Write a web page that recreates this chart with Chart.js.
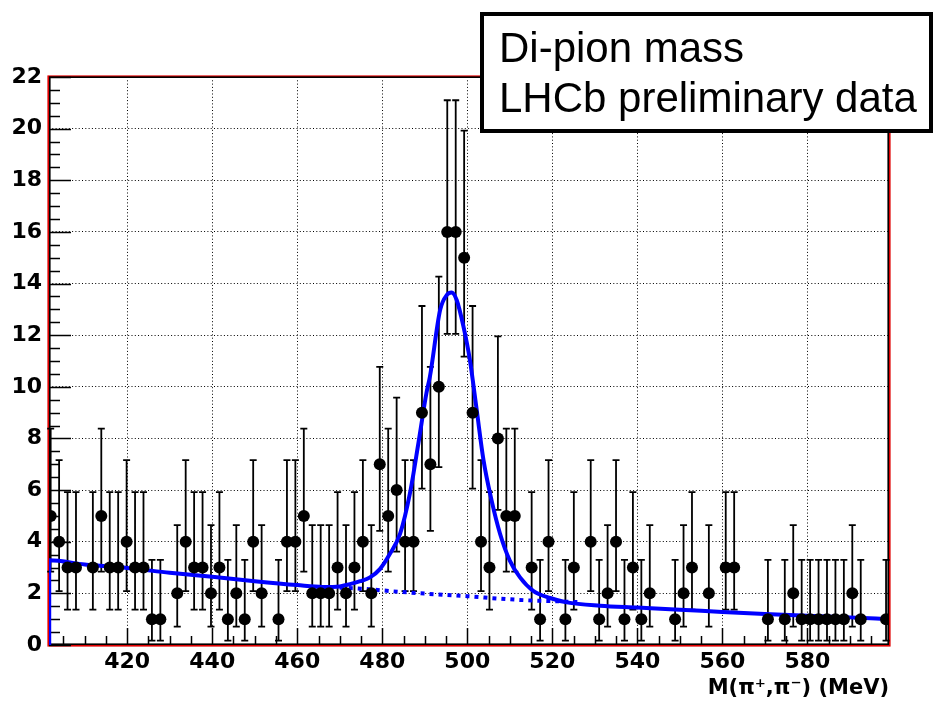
<!DOCTYPE html>
<html>
<head>
<meta charset="utf-8">
<script src="https://cdn.jsdelivr.net/npm/chart.js@4.4.0/dist/chart.umd.min.js"></script>
<style>
  html, body { margin: 0; padding: 0; background: #fff; }
  #wrap { width: 935px; height: 703px; position: relative; }
</style>
</head>
<body>
<div id="wrap"><canvas id="chart" width="935" height="703"></canvas></div>
<script>
// di-pion mass histogram, 100 bins starting at 401 MeV
const binLow = 401.0;
const binWidth = 1.985;
const counts = [
  5, 4, 3, 3, null, 3, 5, 3, 3, 4,
  3, 3, 1, 1, null, 2, 4, 3, 3, 2,
  3, 1, 2, 1, 4, 2, null, 1, 4, 4,
  5, 2, 2, 2, 3, 2, 3, 4, 2, 7,
  5, 6, 4, 4, 9, 7, 10, 16, 16, 15,
  9, 4, 3, 8, 5, 5, null, 3, 1, 4,
  null, 1, 3, null, 4, 1, 2, 4, 1, 3,
  1, 2, null, null, 1, 2, 3, null, 2, null,
  3, 3, null, null, null, 1, null, 1, 2, 1,
  1, 1, 1, 1, 1, 2, 1, null, null, 1
];

// error bar ends, indexed by bin count
const errLow  = [0, 0.17, 0.71, 1.37, 2.09, 2.84, 3.62, 4.42, 5.23, 6.06, 6.89, null, null, null, null, 11.17, 12.05];
const errHigh = [1.84, 3.30, 4.64, 5.92, 7.16, 8.38, 9.58, 10.77, 11.95, 13.13, 14.27, null, null, null, null, 19.92, 21.10];

// fitted signal + background curve
const fitMass = [401.65, 401.65, 410, 420, 430, 440, 450, 460, 466, 470, 472.4, 474.8, 477.1, 479.5, 481.8,
  484.2, 486.5, 488.5, 490.4, 491.2, 493.6, 495.2, 496.3, 497.5, 499.1, 500.6, 502.2, 503.8, 505.7,
  507.7, 510, 512.4, 515.5, 519.5, 523.4, 531.2, 540, 550, 560, 570, 580, 590, 599.2];
const fitValue = [0, 3.28, 3.12, 2.98, 2.80, 2.64, 2.47, 2.32, 2.25, 2.27, 2.36, 2.47, 2.62, 2.95, 3.53,
  4.31, 5.87, 7.82, 9.77, 10.39, 12.97, 13.56, 13.65, 13.36, 12.33, 11.05, 9.12, 7.17, 5.61,
  4.31, 3.27, 2.62, 2.10, 1.82, 1.65, 1.52, 1.45, 1.37, 1.28, 1.20, 1.13, 1.07, 1.00];

// background component (dotted)
const bgMass  = [470, 475, 484, 491, 500, 508, 515.5, 520, 526];
const bgValue = [2.22, 2.18, 2.06, 1.98, 1.89, 1.79, 1.72, 1.70, 1.66];

const xTicks = [420, 440, 460, 480, 500, 520, 540, 560, 580];
const yMax = 22;

const points = [];
counts.forEach((n, i) => {
  if (n == null) return;
  points.push({ x: binLow + binWidth * (i + 0.5), y: n });
});

const axisFont = '"DejaVu Sans", Verdana, sans-serif';

const rootStyle = {
  id: 'rootStyle',
  beforeDatasetsDraw(chart) {
    const ctx = chart.ctx, xs = chart.scales.x, ys = chart.scales.y;
    const a = chart.chartArea;
    ctx.save();

    // frame: black inside, red outside
    ctx.strokeStyle = '#e00000';
    ctx.lineWidth = 1.6;
    ctx.strokeRect(a.left - 0.8, a.top - 0.8, a.right - a.left + 1.6, a.bottom - a.top + 1.6);
    ctx.strokeStyle = '#000';
    ctx.strokeRect(a.left + 0.8, a.top + 0.2, a.right - a.left - 1.6, a.bottom - a.top - 1);

    // inward ticks
    ctx.lineWidth = 1.5;
    ctx.beginPath();
    for (let v = 0; v <= yMax; v += 0.5) {
      const py = Math.round(ys.getPixelForValue(v)) + 0.5;
      const len = v % 2 === 0 ? 22 : 11;
      ctx.moveTo(a.left, py); ctx.lineTo(a.left + len, py);
    }
    for (let v = 405; v < 600; v += 5) {
      const px = Math.round(xs.getPixelForValue(v)) + 0.5;
      const len = v % 20 === 0 ? 17 : 9;
      ctx.moveTo(px, a.bottom); ctx.lineTo(px, a.bottom - len);
    }
    ctx.stroke();

    // error bars
    ctx.lineWidth = 1.8;
    ctx.beginPath();
    points.forEach(p => {
      const px = xs.getPixelForValue(p.x);
      const lo = ys.getPixelForValue(errLow[p.y]);
      const hi = ys.getPixelForValue(errHigh[p.y]);
      ctx.moveTo(px, lo); ctx.lineTo(px, hi);
      ctx.moveTo(px - 3.5, lo); ctx.lineTo(px + 3.5, lo);
      ctx.moveTo(px - 3.5, hi); ctx.lineTo(px + 3.5, hi);
    });
    ctx.stroke();
    ctx.restore();
  },
  afterDraw(chart) {
    const ctx = chart.ctx;
    ctx.save();
    ctx.fillStyle = '#fff';
    ctx.fillRect(480, 12, 453, 121);
    ctx.strokeStyle = '#000';
    ctx.lineWidth = 4;
    ctx.strokeRect(482, 14, 449, 117);
    ctx.fillStyle = '#000';
    ctx.font = '42px "Liberation Sans", Arial, sans-serif';
    ctx.textBaseline = 'alphabetic';
    ctx.fillText('Di-pion mass', 499, 62);
    ctx.fillText('LHCb preliminary data', 499, 112);
    ctx.restore();
  }
};

new Chart(document.getElementById('chart'), {
  type: 'scatter',
  data: {
    datasets: [
      {
        data: points,
        pointRadius: 6,
        pointHoverRadius: 6,
        pointBackgroundColor: '#000',
        pointBorderColor: '#000',
        pointBorderWidth: 0,
        showLine: false
      },
      {
        type: 'line',
        data: fitMass.map((m, i) => ({ x: m, y: fitValue[i] })),
        borderColor: '#0000ff',
        borderWidth: 4,
        pointRadius: 0,
        fill: false,
        cubicInterpolationMode: 'monotone'
      },
      {
        type: 'line',
        data: bgMass.map((m, i) => ({ x: m, y: bgValue[i] })),
        borderColor: '#0000ff',
        borderWidth: 4,
        borderDash: [4, 5],
        pointRadius: 0,
        fill: false,
        cubicInterpolationMode: 'monotone'
      }
    ]
  },
  options: {
    responsive: false,
    animation: false,
    devicePixelRatio: 1,
    layout: { padding: { top: 77, right: 46, left: 0, bottom: 0 } },
    plugins: { legend: { display: false }, tooltip: { enabled: false } },
    scales: {
      x: {
        type: 'linear',
        min: 401.6,
        max: 599.2,
        afterBuildTicks: s => { s.ticks = xTicks.map(v => ({ value: v })); },
        afterFit: s => { s.height = 58; },
        grid: { color: '#000', lineWidth: 1, drawTicks: false },
        border: { display: false, dash: [1, 2.3] },
        ticks: {
          color: '#000',
          padding: 4,
          maxRotation: 0,
          font: { family: axisFont, size: 22, weight: 'bold' }
        },
        title: {
          display: true,
          text: 'M(\u03c0\u207a,\u03c0\u207b) (MeV)',
          align: 'end',
          color: '#000',
          padding: { top: 0, bottom: 2 },
          font: { family: axisFont, size: 21, weight: 'bold' }
        }
      },
      y: {
        min: 0,
        max: yMax,
        afterFit: s => { s.width = 49; },
        grid: { color: '#000', lineWidth: 1, drawTicks: false },
        border: { display: false, dash: [1, 2.3] },
        ticks: {
          stepSize: 2,
          color: '#000',
          padding: 7,
          font: { family: axisFont, size: 22, weight: 'bold' }
        }
      }
    }
  },
  plugins: [rootStyle]
});
</script>
</body>
</html>
